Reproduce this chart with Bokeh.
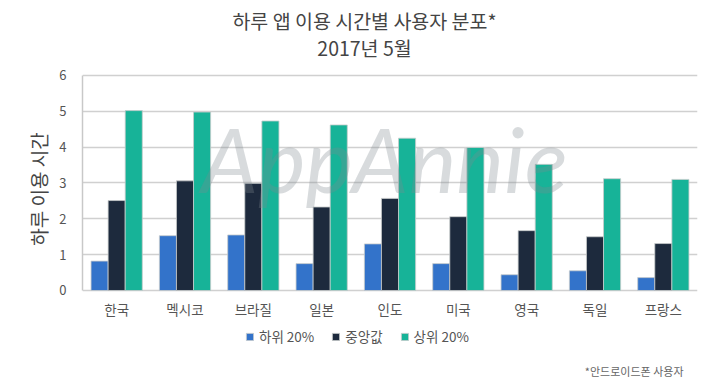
from bokeh.plotting import figure
from bokeh.models import (ColumnDataSource, FactorRange, Range1d, Legend, LegendItem,
                          Label, FixedTicker)
from bokeh.core.properties import value
from bokeh.transform import dodge
from bokeh.embed import file_html
from bokeh.resources import INLINE

countries = ["한국", "멕시코", "브라질", "일본", "인도", "미국", "영국", "독일", "프랑스"]
bottom20 = [0.82, 1.53, 1.55, 0.75, 1.30, 0.75, 0.44, 0.55, 0.36]
median = [2.51, 3.06, 2.99, 2.33, 2.57, 2.06, 1.67, 1.50, 1.31]
top20 = [5.02, 4.98, 4.73, 4.62, 4.25, 3.99, 3.52, 3.12, 3.10]
series_names = ["하위 20%", "중앙값", "상위 20%"]
colors = ["#3373CA", "#1D2A3D", "#17B398"]
y_ticks = [0, 1, 2, 3, 4, 5, 6]
title_1 = "하루 앱 이용 시간별 사용자 분포*"
title_2 = "2017년 5월"
footnote = "*안드로이드폰 사용자"

FONT = "Noto Sans CJK KR"

src = ColumnDataSource(dict(cat=countries, b=bottom20, m=median, t=top20))

# frame covers the whole canvas height; the 0..6 value band sits at 75..290 px
p = figure(frame_width=615, frame_height=377, x_range=FactorRange(*countries),
           y_range=Range1d(-2.428, 8.093),
           output_backend="svg", toolbar_location=None,
           min_border_left=82, min_border_right=1, min_border_top=0, min_border_bottom=0)
p.outline_line_color = None
p.background_fill_color = "white"

offsets = [-0.25, 0.0, 0.25]
renderers = []
for col, off, c in zip(["b", "m", "t"], offsets, colors):
    r = p.vbar(x=dodge("cat", off, range=p.x_range), top=col, width=0.25, source=src,
               fill_color=c, line_color="#C8CCCC", line_width=1, line_alpha=0.8)
    renderers.append(r)

# category labels under the baseline
p.text(x="cat", y=0, text="cat", source=src, y_offset=19, text_align="center",
       text_baseline="middle", text_font=value(FONT), text_font_size="13.5px",
       text_color="#555555")

# watermark
wm = Label(x=302, y=220, x_units="screen", y_units="screen", text="AppAnnie",
           text_font="Lato", text_font_style="italic", text_font_size="90px",
           text_color="#7F8790", text_alpha=0.3, text_align="center", text_baseline="middle")
p.add_layout(wm)

p.xaxis.visible = False
p.xgrid.grid_line_color = None
p.ygrid.grid_line_color = "#D0D0D0"
p.ygrid.grid_line_width = 1.5
p.ygrid.ticker = FixedTicker(ticks=y_ticks)
p.yaxis.ticker = FixedTicker(ticks=y_ticks)
p.yaxis.bounds = (0, 6)
p.yaxis.major_tick_line_color = None
p.yaxis.minor_tick_line_color = None
p.yaxis.axis_line_color = "#C8C8C8"
p.yaxis.axis_line_width = 1.5
p.yaxis.major_label_text_font = FONT
p.yaxis.major_label_text_font_size = "13px"
p.yaxis.major_label_text_color = "#555555"
p.yaxis.major_label_standoff = 10
p.yaxis.axis_label = "하루 이용 시간"
p.yaxis.axis_label_text_font = FONT
p.yaxis.axis_label_text_font_size = "19px"
p.yaxis.axis_label_text_font_style = "normal"
p.yaxis.axis_label_text_color = "#444444"
p.yaxis.axis_label_standoff = 4

# titles
for txt, yy in [(title_1, 357), (title_2, 330)]:
    p.add_layout(Label(x=282, y=yy, x_units="screen", y_units="screen", text=txt,
                       text_font=FONT, text_font_size="19.5px", text_color="#444444",
                       text_align="center", text_baseline="middle"))

legend = Legend(items=[LegendItem(label=n, renderers=[r]) for n, r in zip(series_names, renderers)],
                orientation="horizontal", location=(163, 31),
                label_text_font=FONT, label_text_font_size="13.5px", label_text_color="#555555",
                glyph_width=9, glyph_height=9, spacing=17, label_standoff=5,
                border_line_color=None, background_fill_alpha=0, padding=4, margin=0)
p.add_layout(legend)

p.add_layout(Label(x=601, y=7, x_units="screen", y_units="screen", text=footnote,
                   text_font=FONT, text_font_size="11px", text_color="#666666",
                   text_align="right", text_baseline="middle"))

open("out.html", "w").write(file_html(p, INLINE))
